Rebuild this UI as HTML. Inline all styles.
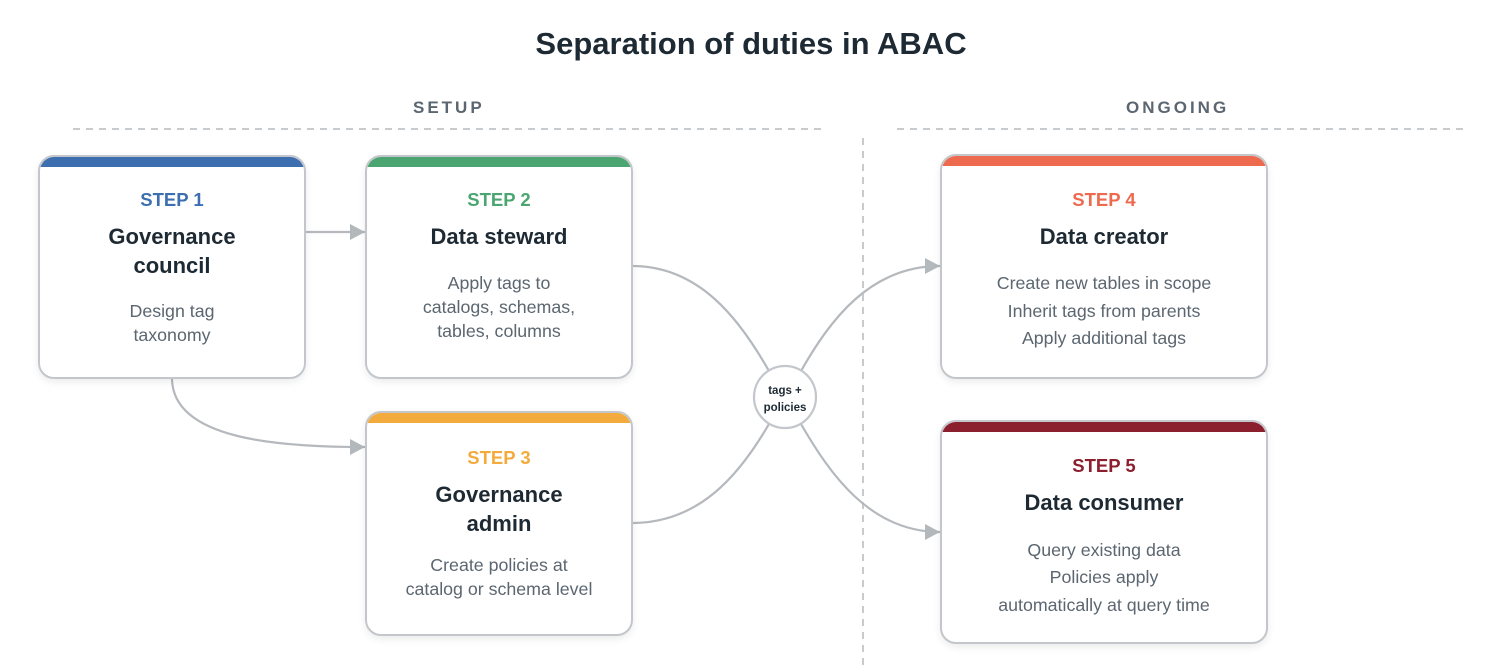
<!DOCTYPE html>
<html><head><meta charset="utf-8"><style>
*{margin:0;padding:0;box-sizing:border-box}
body{width:1502px;height:668px;background:#fff;position:relative;overflow:hidden;font-family:"Liberation Sans",Arial,sans-serif}
.t{position:absolute;left:0;width:100%;text-align:center;white-space:nowrap}
.box{position:absolute;background:#fff;border:2px solid #c3c7cb;border-radius:16px;overflow:hidden;box-shadow:0 3px 8px rgba(0,0,0,0.08)}
.bar{position:absolute;left:0;top:0;right:0;height:10px}
.st{font-weight:bold;font-size:18.5px}
.ti{font-weight:bold;font-size:22px;color:#1e2a33}
.d{font-size:17.8px;color:#5b6670}
.sec{position:absolute;font-weight:bold;font-size:17px;letter-spacing:3px;color:#5b6670}
</style></head><body>
<div class="t" style="top:26px;font-size:31px;font-weight:bold;color:#1e2a33">Separation of duties in ABAC</div>
<div class="sec" style="left:413px;top:98px">SETUP</div>
<div class="sec" style="left:1126px;top:98px">ONGOING</div>
<svg width="1502" height="668" style="position:absolute;left:0;top:0">
<defs><marker id="a" markerWidth="15" markerHeight="16" refX="15" refY="8" orient="auto" markerUnits="userSpaceOnUse" viewBox="0 0 15 16"><path d="M0,0L15,8L0,16z" fill="#b3b8bd"/></marker></defs>
<g stroke="#c8cbce" stroke-width="2" stroke-dasharray="7,6" fill="none">
<line x1="73" y1="129" x2="825" y2="129"/><line x1="897" y1="129" x2="1463" y2="129"/>
<line x1="863" y1="138" x2="863" y2="668"/>
</g>
<g stroke="#b5b9bd" stroke-width="2.2" fill="none">
<path d="M305,232H365" marker-end="url(#a)"/>
<path d="M172,378C172,440 280,447 365,447" marker-end="url(#a)"/>
<path d="M632,266C700,266 740,320 769,371"/>
<path d="M632,523C700,523 740,474 769,424"/>
<path d="M801,371C830,320 870,266 940,266" marker-end="url(#a)"/>
<path d="M801,424C830,474 870,532 940,532" marker-end="url(#a)"/>
</g>
<circle cx="785" cy="397" r="31" fill="#fff" stroke="#c3c7cb" stroke-width="2.2"/>
<text x="785" y="394" text-anchor="middle" font-family="Liberation Sans" font-weight="bold" font-size="11.5" fill="#1e2a33">tags +</text>
<text x="785" y="411" text-anchor="middle" font-family="Liberation Sans" font-weight="bold" font-size="11.5" fill="#1e2a33">policies</text>
</svg>

<div class="box" style="left:38px;top:155px;width:268px;height:224px">
<div class="bar" style="background:#3d6fb0"></div>
<div class="t st" style="top:32px;color:#3d6fb0">STEP 1</div>
<div class="t ti" style="top:67px">Governance</div>
<div class="t ti" style="top:96px">council</div>
<div class="t d" style="top:144px">Design tag</div>
<div class="t d" style="top:168px">taxonomy</div>
</div>

<div class="box" style="left:365px;top:155px;width:268px;height:224px">
<div class="bar" style="background:#4aa570"></div>
<div class="t st" style="top:32px;color:#4aa570">STEP 2</div>
<div class="t ti" style="top:67px">Data steward</div>
<div class="t d" style="top:116px">Apply tags to</div>
<div class="t d" style="top:140px">catalogs, schemas,</div>
<div class="t d" style="top:164px">tables, columns</div>
</div>

<div class="box" style="left:365px;top:411px;width:268px;height:225px">
<div class="bar" style="background:#f2ab3c"></div>
<div class="t st" style="top:34px;color:#f2ab3c">STEP 3</div>
<div class="t ti" style="top:69px">Governance</div>
<div class="t ti" style="top:98px">admin</div>
<div class="t d" style="top:142px">Create policies at</div>
<div class="t d" style="top:166px">catalog or schema level</div>
</div>

<div class="box" style="left:940px;top:154px;width:328px;height:225px">
<div class="bar" style="background:#ee6a4f"></div>
<div class="t st" style="top:33px;color:#ee6a4f">STEP 4</div>
<div class="t ti" style="top:68px">Data creator</div>
<div class="t d" style="top:117px">Create new tables in scope</div>
<div class="t d" style="top:145px">Inherit tags from parents</div>
<div class="t d" style="top:172px">Apply additional tags</div>
</div>

<div class="box" style="left:940px;top:420px;width:328px;height:224px">
<div class="bar" style="background:#8c1f2e"></div>
<div class="t st" style="top:33px;color:#8c1f2e">STEP 5</div>
<div class="t ti" style="top:68px">Data consumer</div>
<div class="t d" style="top:118px">Query existing data</div>
<div class="t d" style="top:145px">Policies apply</div>
<div class="t d" style="top:173px">automatically at query time</div>
</div>
</body></html>
